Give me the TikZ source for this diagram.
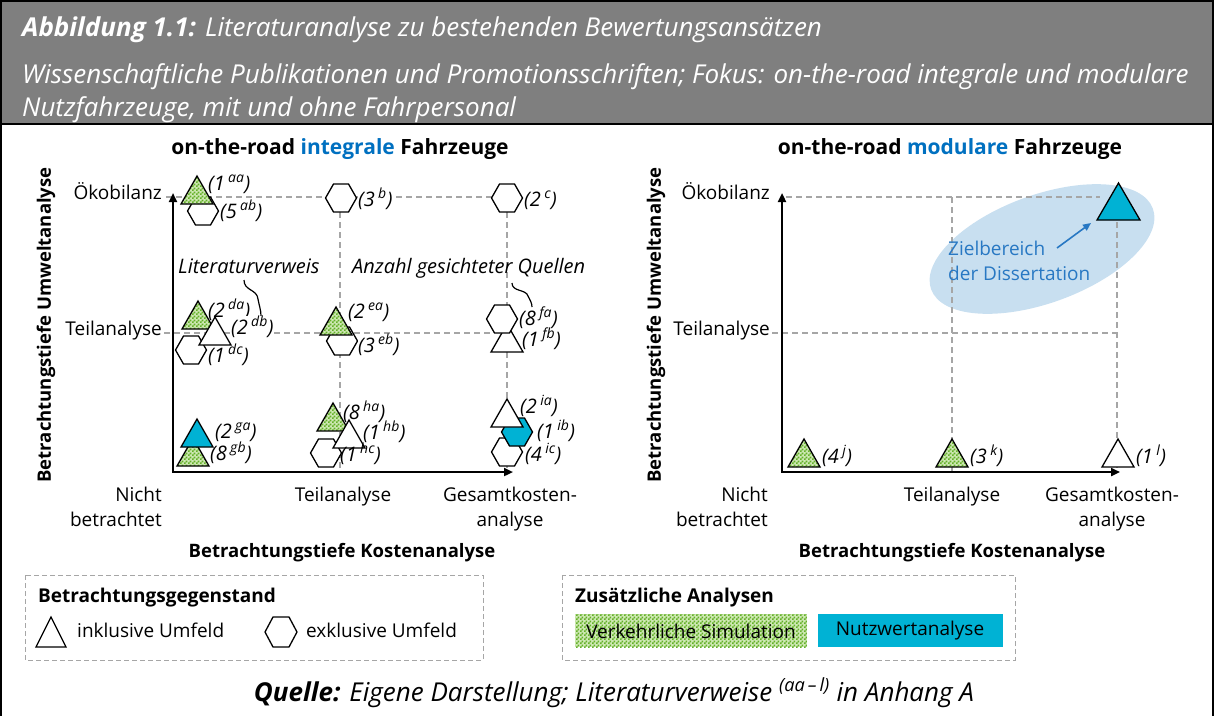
\documentclass[tikz,border=0pt]{standalone}
\usepackage{fontspec}
\setmainfont{Open Sans}
\usetikzlibrary{arrows.meta,patterns}
\definecolor{hdrgray}{RGB}{127,127,127}
\definecolor{dgray}{RGB}{166,166,166}
\definecolor{simgreen}{RGB}{100,176,40}
\definecolor{simlight}{RGB}{205,232,178}
\definecolor{teal}{RGB}{0,178,212}
\definecolor{tblue}{RGB}{0,112,192}
\definecolor{zblue}{RGB}{40,120,195}
\definecolor{ellfill}{RGB}{200,223,240}
\pgfdeclarepatternformonly{checker}{\pgfqpoint{0pt}{0pt}}{\pgfqpoint{4pt}{4pt}}{\pgfqpoint{4pt}{4pt}}{%
 \pgfpathrectangle{\pgfqpoint{0pt}{0pt}}{\pgfqpoint{2pt}{2pt}}%
 \pgfpathrectangle{\pgfqpoint{2pt}{2pt}}{\pgfqpoint{2pt}{2pt}}%
 \pgfusepath{fill}}
\newcommand\lb[2]{(#1\,\textsuperscript{#2})}
\newcommand\mtri[3]{\draw[mk,#3,shift={(#1,#2)}] (-16,14) -- (0,-14) -- (16,14) -- cycle;}
\newcommand\mhex[3]{\draw[mk,#3,shift={(#1,#2)}] (-15.5,0) -- (-7.5,-14) -- (7.5,-14) -- (15.5,0) -- (7.5,14) -- (-7.5,14) -- cycle;}
\tikzset{
 mk/.style={line width=1.3pt, line join=miter, fill=white},
 gr/.style={preaction={fill=simlight}, pattern=checker, pattern color=simgreen},
 tl/.style={fill=teal},
 lab/.style={anchor=base west, font=\fontsize{20}{22}\selectfont\itshape, inner sep=0pt},
 wb/.style={fill=white},
 lvl/.style={font=\fontsize{19}{22}\selectfont, inner sep=0pt},
 ttl/.style={font=\fontsize{21}{24}\selectfont\bfseries, inner sep=0pt, anchor=base},
 axt/.style={font=\fontsize{18.5}{22}\selectfont\bfseries, inner sep=0pt, anchor=base},
 dashln/.style={draw=dgray, dash pattern=on 6pt off 4pt, line width=1.2pt},
 axis/.style={line width=2.2pt, line join=miter, {Triangle[length=9pt,width=8pt]}-{Triangle[length=9pt,width=8pt]}},
 lgbox/.style={draw=dgray, dash pattern=on 5pt off 3pt, line width=1pt},
 hdr/.style={anchor=base west, inner sep=0pt, text=white, font=\fontsize{26}{30}\selectfont\itshape},
 crv/.style={line width=1.2pt}
}
\begin{document}
\begin{tikzpicture}[x=1pt,y=-1pt]
\useasboundingbox (0,0) rectangle (1214,715);
% frame and header
\fill[hdrgray] (1,1) rectangle (1213,124);
\draw[line width=2pt] (1,716) -- (1,1) -- (1213,1) -- (1213,716);
\draw[line width=2pt] (1,124) -- (1213,124);
\node[hdr] (h1) at (22,36) {{\bfseries Abbildung 1.1:} Literaturanalyse zu bestehenden Bewertungsansätzen};
\node[hdr] (h2) at (22,83) {Wissenschaftliche Publikationen und Promotionsschriften; Fokus: on-the-road integrale und modulare};
\node[hdr] (h3) at (22,116) {Nutzfahrzeuge, mit und ohne Fahrpersonal};

% ===== left chart =====
\node[ttl] (t1) at (340,154) {on-the-road \textcolor{tblue}{integrale} Fahrzeuge};
\draw[dashln] (166,197) -- (492,197);
\draw[dashln] (164,333) -- (492,333);
\draw[dashln] (340,212) -- (340,472);
\draw[dashln] (507,212) -- (507,472);
\coordinate (LYt) at (173,193);
\coordinate (LXt) at (513,472);
\draw[axis] (LYt) |- (LXt);
\node[lvl, anchor=mid east] (l1) at (162,197) {Ökobilanz};
\node[lvl, anchor=mid east] (l2) at (162,333) {Teilanalyse};
\node[lvl, anchor=base east] (l3) at (162,501) {Nicht};
\node[lvl, anchor=base east] (l4) at (162,526) {betrachtet};
\node[lvl, anchor=base] (l5) at (343,501) {Teilanalyse};
\node[lvl, anchor=base] (l6) at (510,501) {Gesamtkosten-};
\node[lvl, anchor=base] (l7) at (510,526) {analyse};
\node[axt] (xt1) at (342,557) {Betrachtungstiefe Kostenanalyse};
\node[axt, anchor=center, rotate=90] (yt1) at (46,325) {Betrachtungstiefe Umweltanalyse};

\node[lab] (lv) at (178,273) {Literaturverweis};
\node[lab] (aq) at (352,273) {Anzahl gesichteter Quellen};

% pointer curves
\coordinate (c1s) at (244,280);
\coordinate (c1m) at (258,299);
\coordinate (c1e) at (261,316);
\draw[crv] (c1s) .. controls (244,291) and (257,289) .. (c1m) .. controls (259,305) and (261,310) .. (c1e);
\coordinate (c2s) at (512,283);
\coordinate (c2m) at (528,296);
\coordinate (c2e) at (532,307);
\draw[crv] (c2s) .. controls (512,292) and (526,289) .. (c2m) .. controls (530,300) and (532,303) .. (c2e);

% markers
\mhex{203}{211}{}
\mtri{197}{190}{gr}
\mhex{341}{198}{}
\mhex{507}{198}{}
\mhex{191}{350}{}
\mtri{198}{315}{gr}
\mtri{215}{331}{}
\mhex{342}{341}{}
\mtri{336}{321}{gr}
\mtri{507}{338}{}
\mhex{502}{319}{}
\mtri{193}{452}{gr}
\mtri{197}{433}{tl}
\mhex{326}{453}{}
\mtri{333}{417}{gr}
\mtri{349}{434}{}
\mhex{507}{452}{}
\mhex{517}{432}{tl}
\mtri{507}{413}{}

% labels
\node[lab] (a1) at (208,190) {\lb{1}{aa}};
\node[lab] (a2) at (220,218) {\lb{5}{ab}};
\node[lab, wb] (b1) at (358,206) {\lb{3}{b}};
\node[lab] (c1) at (524,206) {\lb{2}{c}};
\node[lab] (d1) at (208,317) {\lb{2}{da}};
\node[lab, wb] (d2) at (231,334) {\lb{2}{db}};
\node[lab] (d3) at (208,362) {\lb{1}{dc}};
\node[lab] (e1) at (348,318) {\lb{2}{ea}};
\node[lab, wb] (e2) at (358,352) {\lb{3}{eb}};
\node[lab] (f1) at (519,325) {\lb{8}{fa}};
\node[lab] (f2) at (522,346) {\lb{1}{fb}};
\node[lab] (g1) at (215,438) {\lb{2}{ga}};
\node[lab] (g2) at (210,460) {\lb{8}{gb}};
\node[lab] (k1) at (343,419) {\lb{8}{ha}};
\node[lab] (k2) at (363,439) {\lb{1}{hb}};
\node[lab] (k3) at (340,461) {\lb{1}{hc}};
\node[lab] (i1) at (520,413) {\lb{2}{ia}};
\node[lab] (i2) at (537,438) {\lb{1}{ib}};
\node[lab] (i3) at (525,461) {\lb{4}{ic}};

% ===== right chart =====
\fill[ellfill, rotate around={20:(1042,249)}] (1042,249) ellipse [x radius=118, y radius=54];
\node[ttl] (t2) at (950,154) {on-the-road \textcolor{tblue}{modulare} Fahrzeuge};
\draw[dashln] (786,197) -- (1100,197);
\draw[dashln] (772,333) -- (1117,333);
\draw[dashln] (952,197) -- (952,472);
\draw[dashln] (1117,222) -- (1117,472);
\coordinate (RYt) at (782,193);
\coordinate (RXt) at (1120,472);
\draw[axis] (RYt) |- (RXt);
\node[lvl, anchor=mid east] (r1) at (770,197) {Ökobilanz};
\node[lvl, anchor=mid east] (r2) at (770,333) {Teilanalyse};
\node[lvl, anchor=base east] (r3) at (768,501) {Nicht};
\node[lvl, anchor=base east] (r4) at (768,526) {betrachtet};
\node[lvl, anchor=base] (r5) at (952,501) {Teilanalyse};
\node[lvl, anchor=base] (r6) at (1112,501) {Gesamtkosten-};
\node[lvl, anchor=base] (r7) at (1112,526) {analyse};
\node[axt] (xt2) at (952,557) {Betrachtungstiefe Kostenanalyse};
\node[axt, anchor=center, rotate=90] (yt2) at (656,325) {Betrachtungstiefe Umweltanalyse};

\node[lvl, anchor=base west, text=zblue] (z1) at (948,255) {Zielbereich};
\node[lvl, anchor=base west, text=zblue] (z2) at (948,280) {der Dissertation};
\coordinate (za) at (1057,248);
\coordinate (zb) at (1091,223);
\draw[zblue, line width=1.6pt, -{Triangle[length=8pt,width=7pt]}] (za) -- (zb);
\draw[mk, tl] (1097,220) -- (1118.5,183) -- (1140,220) -- cycle;

\mtri{804}{453}{gr}
\mtri{952}{453}{gr}
\mtri{1118}{453}{}
\node[lab] (j1) at (822,463) {\lb{4}{j}};
\node[lab] (m1) at (970,463) {\lb{3}{k}};
\node[lab] (n1) at (1136,463) {\lb{1}{l}};

% ===== legends =====
\draw[lgbox] (25,575) rectangle (483,660);
\node[axt, font=\fontsize{19}{22}\selectfont\bfseries, anchor=base west] (lg1) at (38,602) {Betrachtungsgegenstand};
\draw[mk] (36,647) -- (51,617) -- (66,647) -- cycle;
\node[lvl, anchor=base west] (lg2) at (77,637) {inklusive Umfeld};
\draw[mk] (265,632) -- (273,617) -- (289,617) -- (297,632) -- (289,647) -- (273,647) -- cycle;
\node[lvl, anchor=base west] (lg3) at (306,637) {exklusive Umfeld};

\draw[lgbox] (562,575) rectangle (1015,660);
\node[axt, font=\fontsize{19}{22}\selectfont\bfseries, anchor=base west] (lg4) at (575,602) {Zusätzliche Analysen};
\path[gr] (575,614) rectangle (807,647);
\node[lvl] (lg5) at (691,631) {Verkehrliche Simulation};
\fill[teal] (818,614) rectangle (1003,647);
\node[lvl] (lg6) at (910,631) {Nutzwertanalyse};

\node[anchor=base, inner sep=0pt, font=\fontsize{26}{30}\selectfont\itshape] (src) at (614,701) {{\bfseries Quelle:} Eigene Darstellung; Literaturverweise \textsuperscript{(aa\,–\,l)} in Anhang A};
\end{tikzpicture}
\end{document}
